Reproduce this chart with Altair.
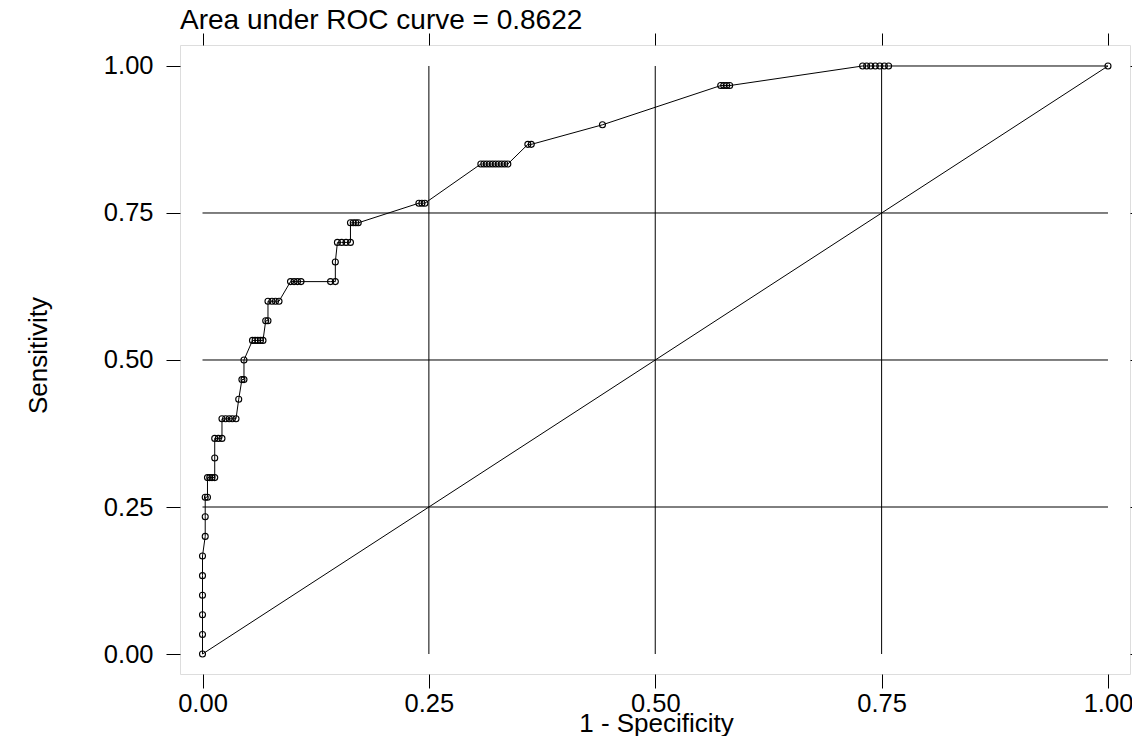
import altair as alt
import pandas as pd

# ROC curve points (1 - specificity, sensitivity)
fpr = [0, 0, 0, 0, 0, 0,
       0.003, 0.003,
       0.003, 0.0055,
       0.0055, 0.008, 0.0105, 0.0135,
       0.0135,
       0.0135, 0.0175, 0.0215,
       0.0215, 0.0255, 0.0295, 0.033, 0.037,
       0.040,
       0.0435, 0.0458,
       0.0458,
       0.0552, 0.0581, 0.061, 0.064, 0.0668,
       0.0698, 0.0723,
       0.0723, 0.0767, 0.0806, 0.0845,
       0.0972, 0.1011, 0.1049, 0.1088, 0.1414, 0.1467,
       0.1467,
       0.149, 0.1537, 0.1585, 0.1634,
       0.1634, 0.1665, 0.1693, 0.172,
       0.239, 0.2423, 0.2456,
       0.3074, 0.3107, 0.314, 0.3173, 0.3206, 0.3239, 0.3272, 0.3305, 0.3338, 0.3372,
       0.3593, 0.3631,
       0.4417,
       0.5723, 0.5756, 0.5789, 0.5822,
       0.729, 0.7335, 0.738, 0.743, 0.748, 0.753, 0.7577,
       1.0]
tpr = [0, 0.0333, 0.0667, 0.1, 0.1333, 0.1667,
       0.2, 0.2333,
       0.2667, 0.2667,
       0.3, 0.3, 0.3, 0.3,
       0.3333,
       0.3667, 0.3667, 0.3667,
       0.4, 0.4, 0.4, 0.4, 0.4,
       0.4333,
       0.4667, 0.4667,
       0.5,
       0.5333, 0.5333, 0.5333, 0.5333, 0.5333,
       0.5667, 0.5667,
       0.6, 0.6, 0.6, 0.6,
       0.6333, 0.6333, 0.6333, 0.6333, 0.6333, 0.6333,
       0.6667,
       0.7, 0.7, 0.7, 0.7,
       0.7333, 0.7333, 0.7333, 0.7333,
       0.7667, 0.7667, 0.7667,
       0.8333, 0.8333, 0.8333, 0.8333, 0.8333, 0.8333, 0.8333, 0.8333, 0.8333, 0.8333,
       0.8667, 0.8667,
       0.9,
       0.9667, 0.9667, 0.9667, 0.9667,
       1, 1, 1, 1, 1, 1, 1,
       1.0]

ticks = [0, 0.25, 0.5, 0.75, 1]
grid_vals = [0.25, 0.5, 0.75]
diag_x = [0, 1]
diag_y = [0, 1]
title_text = "Area under ROC curve = 0.8622"
x_title = "1 - Specificity"
y_title = "Sensitivity"

curve = pd.DataFrame({"fpr": fpr, "tpr": tpr, "order": list(range(len(fpr)))})
diag = pd.DataFrame({"fpr": diag_x, "tpr": diag_y})
grid = pd.DataFrame({"v": grid_vals, "lo": [0] * len(grid_vals), "hi": [1] * len(grid_vals)})

FONT = "Liberation Sans"
W, H = 950, 629
xdom = [-0.02485, 1.0243]
ydom = [-0.034, 1.0357]
xs = alt.Scale(domain=xdom, nice=False, zero=False)
ys = alt.Scale(domain=ydom, nice=False, zero=False)

tick_axis = dict(values=ticks, format=".2f", grid=False, domain=False,
                 tickColor="black", tickWidth=1, labelColor="black",
                 labelFont=FONT, labelFontSize=25.5)
title_axis = dict(titleFont=FONT, titleFontSize=26, titleFontWeight="normal",
                  titleColor="black")

vgrid = alt.Chart(grid).mark_rule(color="black", strokeWidth=1).encode(
    x=alt.X("v:Q", scale=xs,
            axis=alt.Axis(orient="top", labels=False, title=None, tickSize=12, **tick_axis)),
    y=alt.Y("lo:Q", scale=ys, axis=None),
    y2="hi:Q",
)
hgrid = alt.Chart(grid).mark_rule(color="black", strokeWidth=1).encode(
    y=alt.Y("v:Q", scale=ys,
            axis=alt.Axis(orient="right", labels=False, title=None, tickSize=12, **tick_axis)),
    x=alt.X("lo:Q", scale=xs, axis=None),
    x2="hi:Q",
)
diag_line = alt.Chart(diag).mark_line(color="black", strokeWidth=1).encode(
    x=alt.X("fpr:Q", scale=xs, axis=None),
    y=alt.Y("tpr:Q", scale=ys, axis=None),
)
curve_line = alt.Chart(curve).mark_line(color="black", strokeWidth=1).encode(
    x=alt.X("fpr:Q", scale=xs,
            axis=alt.Axis(orient="bottom", title=x_title, tickSize=14, labelPadding=3,
                          titleX=476, titleY=49, titleBaseline="middle", titleAlign="center",
                          **tick_axis, **title_axis)),
    y=alt.Y("tpr:Q", scale=ys,
            axis=alt.Axis(orient="left", title=y_title, tickSize=14, labelPadding=13,
                          titleX=-142, titleY=310, titleAngle=-90, titleBaseline="middle",
                          titleAlign="center", **tick_axis, **title_axis)),
    order="order:Q",
)
curve_pts = alt.Chart(curve).mark_point(shape="circle", filled=False, color="black",
                                        size=36, strokeWidth=1.1, opacity=1).encode(
    x=alt.X("fpr:Q", scale=xs, axis=None),
    y=alt.Y("tpr:Q", scale=ys, axis=None),
)

chart = alt.layer(vgrid, hgrid, diag_line, curve_line, curve_pts).resolve_axis(
    x="independent", y="independent"
).properties(
    width=W, height=H,
    title=alt.TitleParams(title_text, anchor="start", frame="group", font=FONT,
                          fontSize=28, fontWeight="normal", color="black", offset=-2),
    padding={"left": 172, "top": 37, "right": 2, "bottom": 62},
    autosize=alt.AutoSizeParams(type="none"),
).configure_view(stroke="#444444", strokeWidth=1).configure(background="white")

chart.save("out.html", embed_options={"renderer": "svg", "actions": False})
